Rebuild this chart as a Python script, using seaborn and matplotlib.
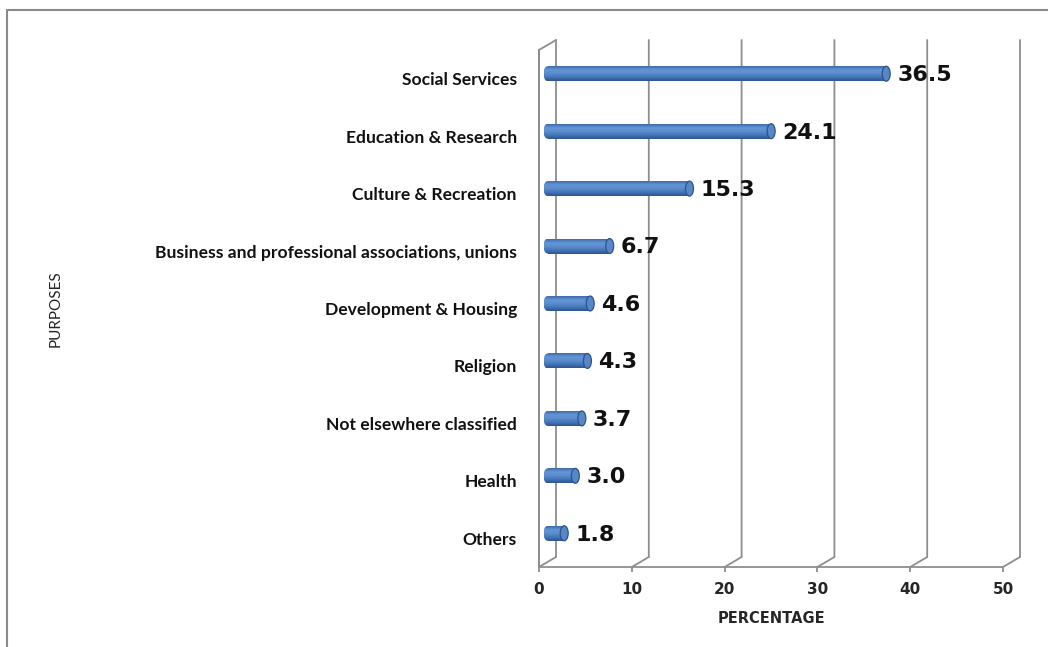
import numpy as np
import pandas as pd
import matplotlib
matplotlib.use("Agg")
import matplotlib.pyplot as plt
import seaborn as sns
from matplotlib.transforms import ScaledTranslation
from matplotlib.patches import Ellipse, ConnectionPatch
from matplotlib.colors import LinearSegmentedColormap
from matplotlib.lines import Line2D

# ---- data -------------------------------------------------------------
purposes = [
    "Social Services",
    "Education & Research",
    "Culture & Recreation",
    "Business and professional associations, unions",
    "Development & Housing",
    "Religion",
    "Not elsewhere classified",
    "Health",
    "Others",
]
percentages = [36.5, 24.1, 15.3, 6.7, 4.6, 4.3, 3.7, 3.0, 1.8]
x_ticks = [0, 10, 20, 30, 40, 50]
x_label = "PERCENTAGE"
y_label = "PURPOSES"

# ---- style ------------------------------------------------------------
sns.set_theme(style="white")
plt.rcParams["font.family"] = ["DejaVu Sans"]

GRID = "#8E8E8E"
BAR_H = 0.26           # bar thickness in category units
DEPTH = (0.17, 0.10)   # 3-D depth of the plot box, inches (right, up)

W, H = 1048, 647
fig = plt.figure(figsize=(W / 100, H / 100), dpi=100)
ax = fig.add_axes([539 / W, (H - 567) / H, 464 / W, 517 / H])

df = pd.DataFrame({"purpose": purposes, "pct": percentages})
sns.barplot(data=df, x="pct", y="purpose", orient="h", width=BAR_H,
            color="#4F81BD", ax=ax, zorder=3, saturation=1)

ax.set_xlim(x_ticks[0], x_ticks[-1])
ax.set_ylim(len(purposes) - 0.5, -0.5)

# transforms for the front plane, the back wall and the mid-depth bars
front = ax.get_xaxis_transform()
back = front + ScaledTranslation(DEPTH[0], DEPTH[1], fig.dpi_scale_trans)
mid = ax.transData + ScaledTranslation(DEPTH[0] / 2, DEPTH[1] / 2,
                                       fig.dpi_scale_trans)


def seg(p, q, ta, tb, **kw):
    cp = ConnectionPatch(xyA=p, coordsA=ta, xyB=q, coordsB=tb, axesA=ax,
                         arrowstyle="-", shrinkA=0, shrinkB=0, color=GRID,
                         lw=1.3, zorder=1, clip_on=False, **kw)
    ax.add_artist(cp)


# back wall gridlines and floor diagonals
for t in x_ticks:
    seg((t, 0), (t, 1), back, back)
    seg((t, 0), (t, 0), front, back)
# left side wall
seg((0, 0), (0, 1), front, front)
seg((0, 1), (0, 1), front, back)

# ---- cylinder bars ----------------------------------------------------
body_cmap = LinearSegmentedColormap.from_list(
    "cyl", ["#3D6BAA", "#6496D6", "#5A8CCE", "#4475B6", "#2B5590"])
grad = np.linspace(0, 1, 64).reshape(-1, 1)
cap_w = 0.86  # width of the elliptical end faces, data units

for patch, val in zip(ax.patches, percentages):
    patch.set_transform(mid)
    patch.set_edgecolor("none")
    y0 = patch.get_y()
    h = patch.get_height()
    yc = y0 + h / 2
    # rounded back end
    back_end = Ellipse((0, yc), cap_w, h, transform=mid, facecolor="none",
                       edgecolor="none", zorder=3)
    ax.add_patch(back_end)
    for clip, (xa, xb) in ((patch, (0, val)), (back_end, (-cap_w / 2, cap_w / 2))):
        im = ax.imshow(grad, cmap=body_cmap, aspect="auto", origin="upper",
                       extent=(xa, xb, y0 + h, y0), zorder=3.2,
                       interpolation="bilinear")
        im.set_transform(mid)
        im.set_clip_path(clip)
    # front face of the cylinder
    ax.add_patch(Ellipse((val, yc), cap_w, h, transform=mid,
                         facecolor="#5787C6", edgecolor="#2C548A", lw=0.9,
                         zorder=3.5))
    ax.annotate(f"{val:.1f}", xy=(val, yc), xycoords=mid,
                xytext=(8, -1), textcoords="offset points",
                ha="left", va="center", fontsize=16, fontweight="bold",
                color="#111111", zorder=4)

ax.set_xlim(x_ticks[0], x_ticks[-1])
ax.set_ylim(len(purposes) - 0.5, -0.5)

# ---- axes decoration --------------------------------------------------
for side in ("top", "right"):
    ax.spines[side].set_visible(False)
for side in ("bottom", "left"):
    ax.spines[side].set_color(GRID)
    ax.spines[side].set_linewidth(1.3)
    ax.spines[side].set_zorder(1)

ax.set_xticks(x_ticks)
ax.set_xticklabels([str(t) for t in x_ticks], fontsize=11, fontweight="bold")
ax.tick_params(axis="x", bottom=True, length=3.6, width=1.3, color=GRID,
               pad=7.5)
ax.tick_params(axis="y", left=False, length=0, pad=16)
for lab in ax.get_yticklabels():
    lab.set_fontfamily("Lato")
    lab.set_fontweight("bold")
    lab.set_fontsize(12.6)
    lab.set_color("#111111")

ax.set_xlabel(x_label, fontsize=10.5, fontweight="bold", labelpad=10)
ax.set_ylabel(y_label, fontsize=11, family="Lato")
ax.yaxis.set_label_coords(-1.026, 0.5)

# outer frame (top and left edges)
fig.add_artist(Line2D([7 / W, 1], [(H - 10) / H] * 2, color="#8A8A8A",
                      lw=1.5, transform=fig.transFigure))
fig.add_artist(Line2D([7 / W, 7 / W], [0, (H - 10) / H], color="#8A8A8A",
                      lw=1.5, transform=fig.transFigure))

fig.savefig("out.png", dpi=100, facecolor="white")
